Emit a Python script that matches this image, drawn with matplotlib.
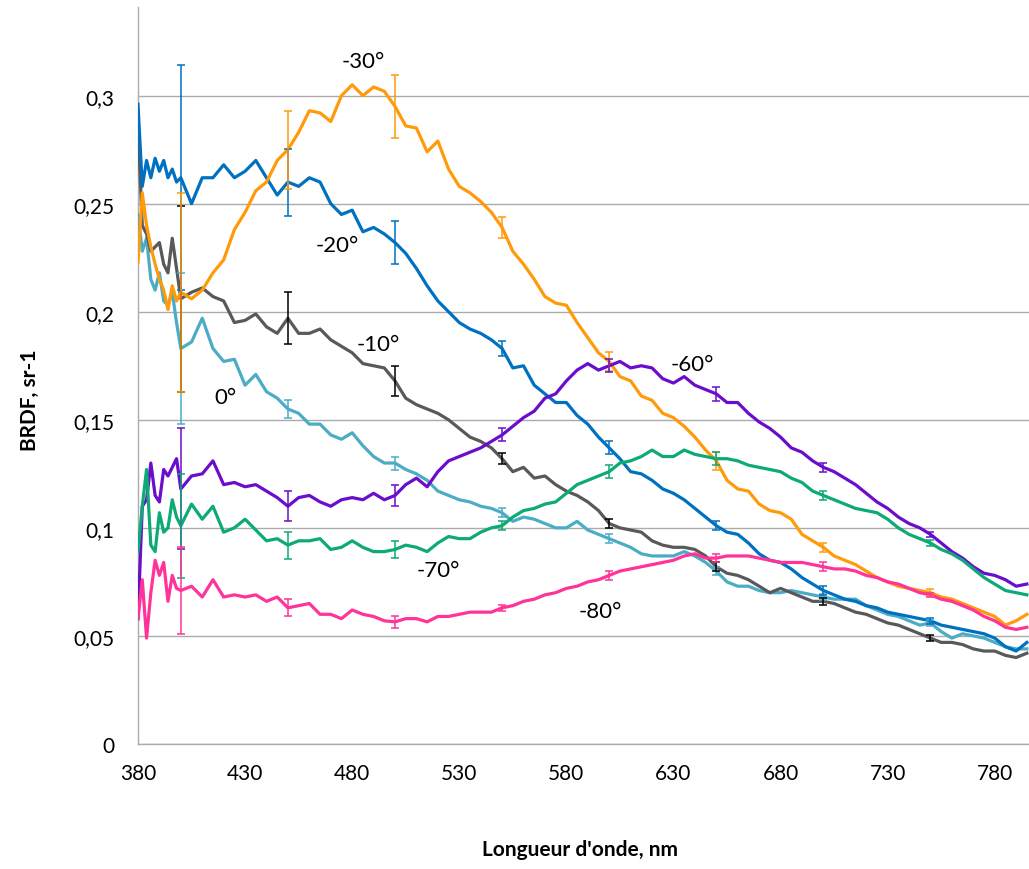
import numpy as np
import matplotlib
matplotlib.use('Agg')
import matplotlib.pyplot as plt

plt.rcParams['font.family'] = ['Lato', 'DejaVu Sans']

# wavelength grid (nm): 2 nm steps at the noisy start, then 5 nm
wl = [380, 382, 384, 386, 388, 390, 392, 394, 396, 398, 400] + list(range(405, 800, 5))

# BRDF values, one list per angle
brdf_0 = [0.245, 0.228, 0.234, 0.215, 0.21, 0.218, 0.205, 0.203, 0.209, 0.195, 0.183,
          0.186, 0.197, 0.183, 0.177, 0.178, 0.166, 0.171, 0.163, 0.16, 0.155,
          0.153, 0.148, 0.148, 0.143, 0.141, 0.144, 0.138, 0.133, 0.13, 0.13,
          0.127, 0.125, 0.122, 0.117, 0.115, 0.113, 0.112, 0.11, 0.109, 0.107,
          0.103, 0.105, 0.104, 0.102, 0.1, 0.1, 0.103, 0.099, 0.097, 0.095,
          0.093, 0.091, 0.088, 0.087, 0.087, 0.087, 0.089, 0.087, 0.084, 0.08,
          0.075, 0.073, 0.073, 0.071, 0.07, 0.07, 0.071, 0.07, 0.069, 0.068,
          0.067, 0.067, 0.067, 0.064, 0.062, 0.06, 0.059, 0.057, 0.055, 0.056,
          0.052, 0.049, 0.051, 0.05, 0.049, 0.047, 0.045, 0.044, 0.044]
brdf_m10 = [0.286, 0.24, 0.236, 0.228, 0.23, 0.232, 0.222, 0.218, 0.234, 0.22, 0.206,
            0.209, 0.211, 0.207, 0.205, 0.195, 0.196, 0.199, 0.193, 0.19, 0.197,
            0.19, 0.19, 0.192, 0.187, 0.184, 0.181, 0.176, 0.175, 0.174, 0.168,
            0.16, 0.157, 0.155, 0.153, 0.15, 0.146, 0.142, 0.14, 0.137, 0.132,
            0.126, 0.128, 0.123, 0.124, 0.12, 0.117, 0.115, 0.112, 0.108, 0.102,
            0.1, 0.099, 0.098, 0.094, 0.092, 0.091, 0.091, 0.09, 0.087, 0.082,
            0.079, 0.078, 0.076, 0.073, 0.07, 0.072, 0.07, 0.068, 0.066, 0.066,
            0.065, 0.063, 0.061, 0.06, 0.058, 0.056, 0.055, 0.053, 0.051, 0.049,
            0.047, 0.047, 0.046, 0.044, 0.043, 0.043, 0.041, 0.04, 0.042]
brdf_m20 = [0.296, 0.258, 0.27, 0.262, 0.271, 0.265, 0.27, 0.262, 0.266, 0.26, 0.262,
            0.25, 0.262, 0.262, 0.268, 0.262, 0.265, 0.27, 0.262, 0.254, 0.26,
            0.258, 0.262, 0.26, 0.25, 0.245, 0.247, 0.237, 0.239, 0.236, 0.232,
            0.227, 0.22, 0.212, 0.205, 0.2, 0.195, 0.192, 0.19, 0.187, 0.183,
            0.174, 0.175, 0.166, 0.162, 0.158, 0.158, 0.152, 0.148, 0.142, 0.137,
            0.132, 0.126, 0.125, 0.122, 0.118, 0.116, 0.113, 0.109, 0.105, 0.101,
            0.098, 0.097, 0.093, 0.088, 0.085, 0.084, 0.081, 0.077, 0.074, 0.071,
            0.069, 0.067, 0.066, 0.064, 0.063, 0.061, 0.06, 0.059, 0.058, 0.057,
            0.055, 0.054, 0.053, 0.052, 0.051, 0.049, 0.045, 0.043, 0.047]
brdf_m30 = [0.223, 0.255, 0.24, 0.23, 0.222, 0.215, 0.21, 0.201, 0.212, 0.205, 0.209,
            0.206, 0.21, 0.218, 0.224, 0.238, 0.246, 0.256, 0.26, 0.27, 0.275,
            0.283, 0.293, 0.292, 0.288, 0.3, 0.305, 0.3, 0.304, 0.302, 0.295,
            0.286, 0.285, 0.274, 0.279, 0.266, 0.258, 0.255, 0.251, 0.246, 0.239,
            0.228, 0.222, 0.215, 0.207, 0.204, 0.203, 0.195, 0.188, 0.181, 0.177,
            0.17, 0.168, 0.161, 0.159, 0.153, 0.151, 0.147, 0.142, 0.136, 0.131,
            0.122, 0.118, 0.117, 0.111, 0.108, 0.107, 0.104, 0.097, 0.094, 0.091,
            0.087, 0.085, 0.083, 0.08, 0.077, 0.075, 0.073, 0.072, 0.071, 0.07,
            0.068, 0.067, 0.065, 0.063, 0.061, 0.059, 0.055, 0.057, 0.06]
brdf_m60 = [0.058, 0.11, 0.113, 0.13, 0.115, 0.112, 0.127, 0.124, 0.128, 0.132, 0.118,
            0.124, 0.125, 0.131, 0.12, 0.121, 0.119, 0.12, 0.117, 0.114, 0.11,
            0.114, 0.115, 0.112, 0.11, 0.113, 0.114, 0.113, 0.116, 0.113, 0.115,
            0.12, 0.123, 0.119, 0.126, 0.131, 0.133, 0.135, 0.137, 0.14, 0.143,
            0.147, 0.151, 0.154, 0.16, 0.162, 0.168, 0.173, 0.176, 0.173, 0.175,
            0.177, 0.174, 0.175, 0.174, 0.169, 0.167, 0.17, 0.166, 0.164, 0.162,
            0.158, 0.158, 0.153, 0.149, 0.146, 0.142, 0.137, 0.135, 0.131, 0.128,
            0.126, 0.123, 0.12, 0.116, 0.112, 0.109, 0.105, 0.102, 0.1, 0.097,
            0.093, 0.089, 0.086, 0.082, 0.079, 0.078, 0.076, 0.073, 0.074]
brdf_m70 = [0.089, 0.11, 0.127, 0.092, 0.089, 0.107, 0.098, 0.1, 0.113, 0.105, 0.101,
            0.111, 0.104, 0.11, 0.098, 0.1, 0.104, 0.099, 0.094, 0.095, 0.092,
            0.094, 0.094, 0.095, 0.09, 0.091, 0.094, 0.091, 0.089, 0.089, 0.09,
            0.092, 0.091, 0.089, 0.093, 0.096, 0.095, 0.095, 0.098, 0.1, 0.101,
            0.105, 0.108, 0.109, 0.111, 0.112, 0.116, 0.12, 0.122, 0.124, 0.126,
            0.13, 0.131, 0.133, 0.136, 0.133, 0.133, 0.136, 0.134, 0.133, 0.132,
            0.132, 0.131, 0.129, 0.128, 0.127, 0.126, 0.123, 0.121, 0.117, 0.115,
            0.113, 0.111, 0.109, 0.108, 0.107, 0.104, 0.1, 0.097, 0.095, 0.093,
            0.09, 0.088, 0.085, 0.081, 0.077, 0.074, 0.071, 0.07, 0.069]
brdf_m80 = [0.058, 0.076, 0.049, 0.07, 0.085, 0.078, 0.084, 0.066, 0.078, 0.072, 0.071,
            0.073, 0.068, 0.076, 0.068, 0.069, 0.068, 0.069, 0.066, 0.068, 0.063,
            0.064, 0.065, 0.06, 0.06, 0.058, 0.062, 0.06, 0.059, 0.057, 0.0565,
            0.058, 0.058, 0.0565, 0.059, 0.059, 0.06, 0.061, 0.061, 0.061, 0.063,
            0.064, 0.066, 0.067, 0.069, 0.07, 0.072, 0.073, 0.075, 0.076, 0.078,
            0.08, 0.081, 0.082, 0.083, 0.084, 0.085, 0.087, 0.088, 0.086, 0.086,
            0.087, 0.087, 0.087, 0.086, 0.085, 0.084, 0.084, 0.084, 0.083, 0.082,
            0.081, 0.081, 0.08, 0.078, 0.077, 0.075, 0.074, 0.072, 0.07, 0.069,
            0.067, 0.066, 0.064, 0.062, 0.059, 0.057, 0.054, 0.053, 0.054]

# error bars every 50 nm
err_wl = [400, 450, 500, 550, 600, 650, 700, 750]
err_0 = [0.035, 0.004, 0.003, 0.002, 0.002, 0.002, 0.0015, 0.0015]
err_m10 = [0.043, 0.012, 0.007, 0.0025, 0.002, 0.002, 0.0015, 0.0015]
err_m20 = [0.052, 0.0155, 0.01, 0.0035, 0.003, 0.002, 0.002, 0.0015]
err_m30 = [0.046, 0.018, 0.0145, 0.005, 0.0045, 0.004, 0.002, 0.0015]
err_m60 = [0.028, 0.007, 0.005, 0.003, 0.003, 0.0032, 0.002, 0.001]
err_m70 = [0.024, 0.0063, 0.004, 0.002, 0.003, 0.003, 0.002, 0.0015]
err_m80 = [0.02, 0.004, 0.0027, 0.0015, 0.002, 0.002, 0.002, 0.001]

labels = ['0°', '-10°', '-20°', '-30°', '-60°', '-70°', '-80°']
label_pos = [(421, 0.1606), (492, 0.185), (473, 0.231), (485, 0.316),
             (639, 0.176), (520, 0.0806), (596, 0.0616)]

series = [brdf_0, brdf_m10, brdf_m20, brdf_m30, brdf_m60, brdf_m70, brdf_m80]
errors = [err_0, err_m10, err_m20, err_m30, err_m60, err_m70, err_m80]
colors = ['#4BACC6', '#595959', '#0070C0', '#FF9A0A', '#6A0DCC', '#0DAA76', '#FF3399']
err_colors = ['#4BACC6', '#000000', '#0070C0', '#FF9A0A', '#6A0DCC', '#0DAA76', '#FF3399']

fig = plt.figure(figsize=(10.29, 8.70), dpi=100)
ax = fig.add_axes([0.1341, 0.1437, 0.8659, 0.8471])

for y, e, c, ec in zip(series, errors, colors, err_colors):
    ax.plot(wl, y, color=c, lw=2.3, zorder=3)
    centres = [y[wl.index(w)] for w in err_wl]
    ax.errorbar(err_wl, centres, yerr=e, fmt='none', ecolor=ec,
                elinewidth=1.1, capsize=3, capthick=1.1, zorder=4)

for lab, (x, yv) in zip(labels, label_pos):
    ax.text(x, yv, lab, fontsize=16, ha='center', va='center', zorder=5)

ax.set_xlim(380, 796)
ax.set_ylim(0, 0.341)
ax.set_xticks([380, 430, 480, 530, 580, 630, 680, 730, 780])
yticks = [0, 0.05, 0.1, 0.15, 0.2, 0.25, 0.3]
ax.set_yticks(yticks)
ax.set_yticklabels(['0', '0,05', '0,1', '0,15', '0,2', '0,25', '0,3'])
ax.tick_params(length=0, labelsize=15)
ax.tick_params(axis='y', pad=17)
ax.tick_params(axis='x', pad=14)
ax.grid(axis='y', color='#ABABAB', lw=1.0)
ax.set_axisbelow(True)
for s in ['top', 'right']:
    ax.spines[s].set_visible(False)
for s in ['left', 'bottom']:
    ax.spines[s].set_color('#ABABAB')
    ax.spines[s].set_linewidth(1.0)

fig.text(0.5637, 0.012, "Longueur d'onde, nm", ha='center', va='bottom',
         fontsize=15, fontweight='bold')
fig.text(0.029, 0.54, 'BRDF, sr-1', ha='center', va='center', rotation=90,
         fontsize=15, fontweight='bold')

fig.savefig('out.png', dpi=100)
